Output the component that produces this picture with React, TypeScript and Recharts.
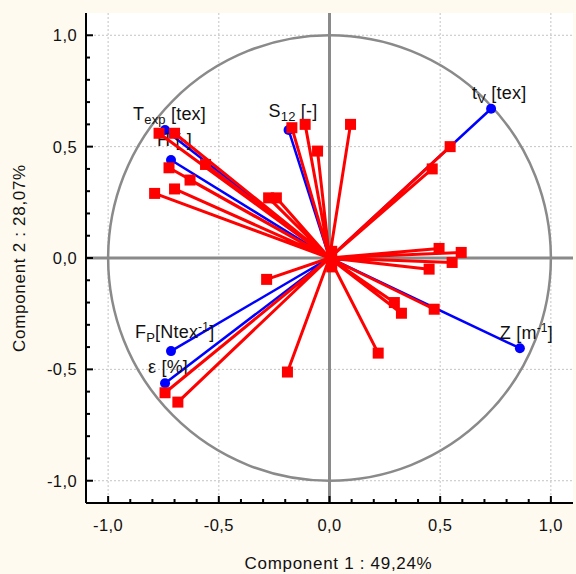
import React from "react";
import {
  CartesianGrid,
  ReferenceArea,
  ReferenceLine,
  Scatter,
  ScatterChart,
  XAxis,
  YAxis,
} from "recharts";

// axis ticks (every 0.1, labelled every 0.5)
const AXIS_TICKS = [
  -1.0, -0.9, -0.8, -0.7, -0.6, -0.5, -0.4, -0.3, -0.2, -0.1, 0.0, 0.1, 0.2,
  0.3, 0.4, 0.5, 0.6, 0.7, 0.8, 0.9, 1.0,
];
const GRID_VALUES = [-1.0, -0.5, 0.5, 1.0];

// active variables (blue)
const varNames = ["tV", "S12", "Texp", "H", "FP", "eps", "Z"];
const varX = [0.73, -0.185, -0.743, -0.716, -0.716, -0.743, 0.86];
const varY = [0.67, 0.575, 0.575, 0.44, -0.418, -0.562, -0.405];

// supplementary variables (red)
const suppX = [
  -0.77, -0.7, -0.56, -0.725, -0.63, -0.79, -0.7, -0.275, -0.24, -0.17, -0.11,
  -0.054, 0.095, 0.545, 0.464, 0.495, 0.595, 0.554, 0.45, -0.284, -0.743,
  -0.685, -0.19, 0.293, 0.325, 0.473, 0.22, 0.01, 0.01,
];
const suppY = [
  0.56, 0.56, 0.42, 0.405, 0.35, 0.29, 0.31, 0.27, 0.27, 0.585, 0.6, 0.48, 0.6,
  0.5, 0.4, 0.043, 0.025, -0.02, -0.05, -0.096, -0.605, -0.647, -0.512, -0.2,
  -0.248, -0.23, -0.427, 0.03, -0.04,
];

const FONT = '"Liberation Sans", Arial, sans-serif';
const GRAY = "#8a8a8a";
const TEXT = "#111";

// label pixel offsets from the point (text start, baseline)
const labelOffsets: Record<string, [number, number]> = {
  tV: [-19, -10],
  S12: [-20, -13],
  Texp: [-32, -10],
  H: [-14, -14],
  FP: [-36, -13],
  eps: [-17, -10],
  Z: [-20, -9],
};

const isMajor = (v: number) => Math.abs(v * 2 - Math.round(v * 2)) < 1e-6;
const fmt = (v: number) => (Math.abs(v) < 1e-9 ? 0 : v).toFixed(1).replace(".", ",");

// vectors drawn as one polyline going out from the origin and back
const star = (xs: number[], ys: number[], names?: string[]) =>
  xs.flatMap((x, i) => [
    { x: 0, y: 0, origin: true },
    { x, y: ys[i], name: names ? names[i] : "" },
  ]);

const redData = star(suppX, suppY);
const blueData = star(varX, varY, varNames);

const VarLabel = ({ name, x, y }: { name: string; x: number; y: number }) => {
  const t = { fontFamily: FONT, fill: TEXT, fontSize: 18, letterSpacing: 0.2 };
  const sub = { fontSize: 13 };
  switch (name) {
    case "tV":
      return (
        <text x={x} y={y} {...t}>
          t<tspan dy={4} {...sub}>V</tspan>
          <tspan dy={-4}> [tex]</tspan>
        </text>
      );
    case "S12":
      return (
        <text x={x} y={y} {...t}>
          S<tspan dy={4} {...sub}>12</tspan>
          <tspan dy={-4}> [-]</tspan>
        </text>
      );
    case "Texp":
      return (
        <text x={x} y={y} {...t}>
          T<tspan dy={4} {...sub}>exp</tspan>
          <tspan dy={-4}> [tex]</tspan>
        </text>
      );
    case "H":
      return (
        <text x={x} y={y} {...t}>
          H [-]
        </text>
      );
    case "FP":
      return (
        <text x={x} y={y} {...t}>
          F<tspan dy={4} {...sub}>P</tspan>
          <tspan dy={-4}>[Ntex</tspan>
          <tspan dy={-7} fontSize={12}>-1</tspan>
          <tspan dy={7}>]</tspan>
        </text>
      );
    case "eps":
      return (
        <text x={x} y={y} {...t}>
          ε [%]
        </text>
      );
    default:
      return (
        <text x={x} y={y} {...t}>
          Z [m<tspan dy={-7} fontSize={12}>-1</tspan>
          <tspan dy={7}>]</tspan>
        </text>
      );
  }
};

const RedSquare = (props: any) => {
  if (props.payload?.origin) return <g />;
  return (
    <rect x={props.cx - 5.5} y={props.cy - 5.5} width={11} height={11} fill="#ff0000" />
  );
};

const BlueDot = (props: any) => {
  if (props.payload?.origin) return <g />;
  const name = props.payload.name as string;
  const [dx, dy] = labelOffsets[name];
  return (
    <g>
      <VarLabel name={name} x={props.cx + dx} y={props.cy + dy} />
      <circle cx={props.cx} cy={props.cy} r={5} fill="#0000ff" />
    </g>
  );
};

const tickText = { fontSize: 16.5, fontFamily: FONT, fill: TEXT, letterSpacing: 0.4 };

const BottomTick = ({ x, y, payload }: any) => {
  const major = isMajor(payload.value);
  return (
    <g>
      <line x1={x} x2={x} y1={y} y2={y - (major ? 7 : 4)} stroke="#000" strokeWidth={2} />
      {major && (
        <text x={x} y={y + 28} textAnchor="middle" {...tickText}>
          {fmt(payload.value)}
        </text>
      )}
    </g>
  );
};

const LeftTick = ({ x, y, payload }: any) => {
  const major = isMajor(payload.value);
  return (
    <g>
      <line x1={x} x2={x + (major ? 7 : 4)} y1={y} y2={y} stroke="#000" strokeWidth={2} />
      {major && (
        <text x={x - 9} y={y + 6} textAnchor="end" {...tickText}>
          {fmt(payload.value)}
        </text>
      )}
    </g>
  );
};

const TopTick = ({ x, y, payload }: any) => (
  <line x1={x} x2={x} y1={y} y2={y + (isMajor(payload.value) ? 7 : 4)} stroke="#000" strokeWidth={2} />
);

const RightTick = ({ x, y, payload }: any) => (
  <line x1={x} x2={x - (isMajor(payload.value) ? 7 : 4)} y1={y} y2={y} stroke="#000" strokeWidth={2} />
);

const Circle = (p: any) => (
  <ellipse
    cx={p.x + p.width / 2}
    cy={p.y + p.height / 2}
    rx={p.width / 2}
    ry={p.height / 2}
    fill="none"
    stroke={GRAY}
    strokeWidth={2.5}
  />
);

const axisLine = { stroke: "#000", strokeWidth: 2 };
const titleText = { fontSize: 17, fontFamily: FONT, fill: TEXT, letterSpacing: 0.7 };

const App = () => {
  return (
    <div
      style={{
        position: "fixed",
        left: 0,
        top: 0,
        width: 576,
        height: 574,
        background: "#fffaf0",
      }}
    >
      <ScatterChart
        width={576}
        height={574}
        margin={{ top: 13, right: 3, bottom: 0, left: 0 }}
      >
        <CartesianGrid
          fill="#ffffff"
          stroke="#c4c4c4"
          strokeDasharray="2 2"
          horizontalValues={GRID_VALUES}
          verticalValues={GRID_VALUES}
        />
        <ReferenceArea x1={-1} x2={1} y1={-1} y2={1} shape={Circle} />
        <ReferenceLine x={0} stroke={GRAY} strokeWidth={3} />
        <ReferenceLine y={0} stroke={GRAY} strokeWidth={3} />

        <XAxis
          dataKey="x"
          type="number"
          domain={[-1.1, 1.1]}
          allowDataOverflow
          ticks={AXIS_TICKS}
          interval={0}
          height={71}
          tickSize={0}
          tickMargin={0}
          tickLine={false}
          axisLine={axisLine}
          tick={<BottomTick />}
          label={({ viewBox }: any) => (
            <text
              x={viewBox.x + viewBox.width / 2 + 9}
              y={viewBox.y + 66}
              textAnchor="middle"
              {...titleText}
            >
              Component 1 : 49,24%
            </text>
          )}
        />
        <XAxis
          xAxisId="top"
          orientation="top"
          type="number"
          domain={[-1.1, 1.1]}
          allowDataOverflow
          ticks={AXIS_TICKS}
          interval={0}
          height={0}
          tickSize={0}
          tickMargin={0}
          tickLine={false}
          axisLine={axisLine}
          tick={<TopTick />}
        />
        <YAxis
          dataKey="y"
          type="number"
          domain={[-1.1, 1.1]}
          allowDataOverflow
          ticks={AXIS_TICKS}
          interval={0}
          width={86}
          tickSize={0}
          tickMargin={0}
          tickLine={false}
          axisLine={axisLine}
          tick={<LeftTick />}
          label={({ viewBox }: any) => {
            const cy = viewBox.y + viewBox.height / 2;
            return (
              <text
                x={19}
                y={cy}
                transform={`rotate(-90, 19, ${cy})`}
                textAnchor="middle"
                dominantBaseline="central"
                {...titleText}
              >
                Component 2 : 28,07%
              </text>
            );
          }}
        />
        <YAxis
          yAxisId="right"
          orientation="right"
          type="number"
          domain={[-1.1, 1.1]}
          allowDataOverflow
          ticks={AXIS_TICKS}
          interval={0}
          width={0}
          tickSize={0}
          tickMargin={0}
          tickLine={false}
          axisLine={axisLine}
          tick={<RightTick />}
        />

        <Scatter
          data={blueData}
          line={{ stroke: "#0000ff", strokeWidth: 2.5, strokeLinejoin: "round" }}
          shape={BlueDot}
          isAnimationActive={false}
        />
        <Scatter
          data={redData}
          line={{ stroke: "#ff0000", strokeWidth: 3, strokeLinejoin: "round" }}
          shape={RedSquare}
          isAnimationActive={false}
        />
      </ScatterChart>
    </div>
  );
};

export default App;
